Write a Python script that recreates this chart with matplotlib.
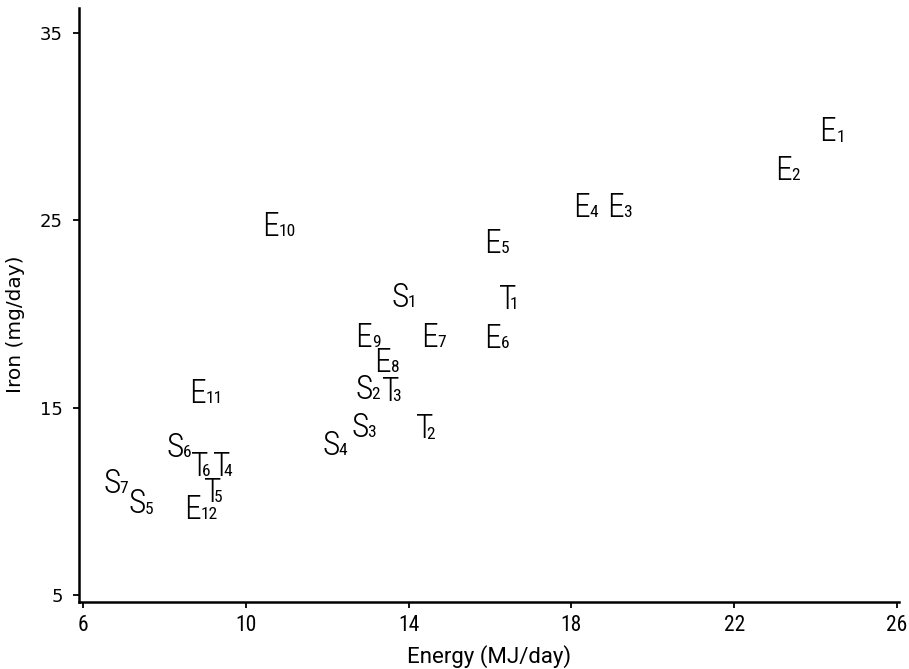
import matplotlib
matplotlib.use("Agg")
import matplotlib.pyplot as plt
from matplotlib import font_manager as fm

# Data: label letter, subscript, energy (MJ/day), iron (mg/day)
letters = ["E", "E", "E", "E", "E", "E", "E", "E", "E", "E", "E", "E",
           "S", "S", "S", "S", "S", "S", "S",
           "T", "T", "T", "T", "T", "T"]
subs = ["1", "2", "3", "4", "5", "6", "7", "8", "9", "10", "11", "12",
        "1", "2", "3", "4", "5", "6", "7",
        "1", "2", "3", "4", "5", "6"]
energy = [24.3, 23.2, 19.07, 18.24, 16.05, 16.06, 14.5, 13.35, 12.9, 10.6, 8.8, 8.68,
          13.8, 12.9, 12.8, 12.1, 7.33, 8.27, 6.71,
          16.43, 14.4, 13.55, 9.4, 9.18, 8.87]
iron = [29.85, 27.8, 25.8, 25.8, 23.9, 18.85, 18.9, 17.55, 18.9, 24.8, 15.9, 9.7,
        21.0, 16.1, 14.1, 13.1, 10.0, 13.0, 11.1,
        20.9, 14.0, 16.0, 12.0, 10.6, 12.0]

xticks = [6, 10, 14, 18, 22, 26]
yticks = [5, 15, 25, 35]

names = {f.name for f in fm.fontManager.ttflist}
narrow_family = "DejaVu Sans"
for cand in ["Roboto Condensed", "Liberation Sans Narrow", "DejaVu Sans Condensed"]:
    if cand in names:
        narrow_family = cand
        break
narrow = {"family": narrow_family, "stretch": "condensed"}

fig = plt.figure(figsize=(9.09, 6.69), dpi=100)
ax = fig.add_axes([0.0869, 0.1001, 0.989 - 0.0869, 0.988 - 0.1001])
ax.set_xlim(5.90, 26.05)
ax.set_ylim(4.63, 36.33)

for s in ["top", "right"]:
    ax.spines[s].set_visible(False)
for s in ["left", "bottom"]:
    ax.spines[s].set_linewidth(1.8)

ax.set_xticks(xticks)
ax.set_yticks(yticks)
ax.tick_params(axis="both", direction="out", length=4.5, width=1.3, color="black")
ax.tick_params(axis="x", pad=5)
ax.tick_params(axis="y", pad=7)
for lab in ax.get_xticklabels():
    lab.set_family(narrow["family"])
    lab.set_stretch("condensed")
    lab.set_fontsize(15.5)
for lab in ax.get_yticklabels():
    lab.set_family("DejaVu Sans")
    lab.set_fontsize(13)

ax.set_xlabel("Energy (MJ/day)", family="Roboto", fontsize=16)
ax.xaxis.set_label_coords(0.5, -0.072)
ax.set_ylabel("Iron (mg/day)", family="DejaVu Sans", fontsize=14.5)
ax.yaxis.set_label_coords(-0.066, 0.468)

FS = 24
cap = 0.72 * FS
sub_dx = {"E": 0.2, "S": -0.8, "T": -5.0}
for L, sb, x, y in zip(letters, subs, energy, iron):
    t = ax.annotate(L, xy=(x, y), xytext=(0, -cap / 2), textcoords="offset points",
                    ha="center", va="baseline", fontsize=FS, fontweight="light", **narrow)
    ax.annotate(sb, xy=(1, 0), xycoords=t, xytext=(sub_dx[L], 2.8), textcoords="offset points",
                ha="left", va="bottom", fontsize=12.5, **narrow)

fig.savefig("out.png", dpi=100)
